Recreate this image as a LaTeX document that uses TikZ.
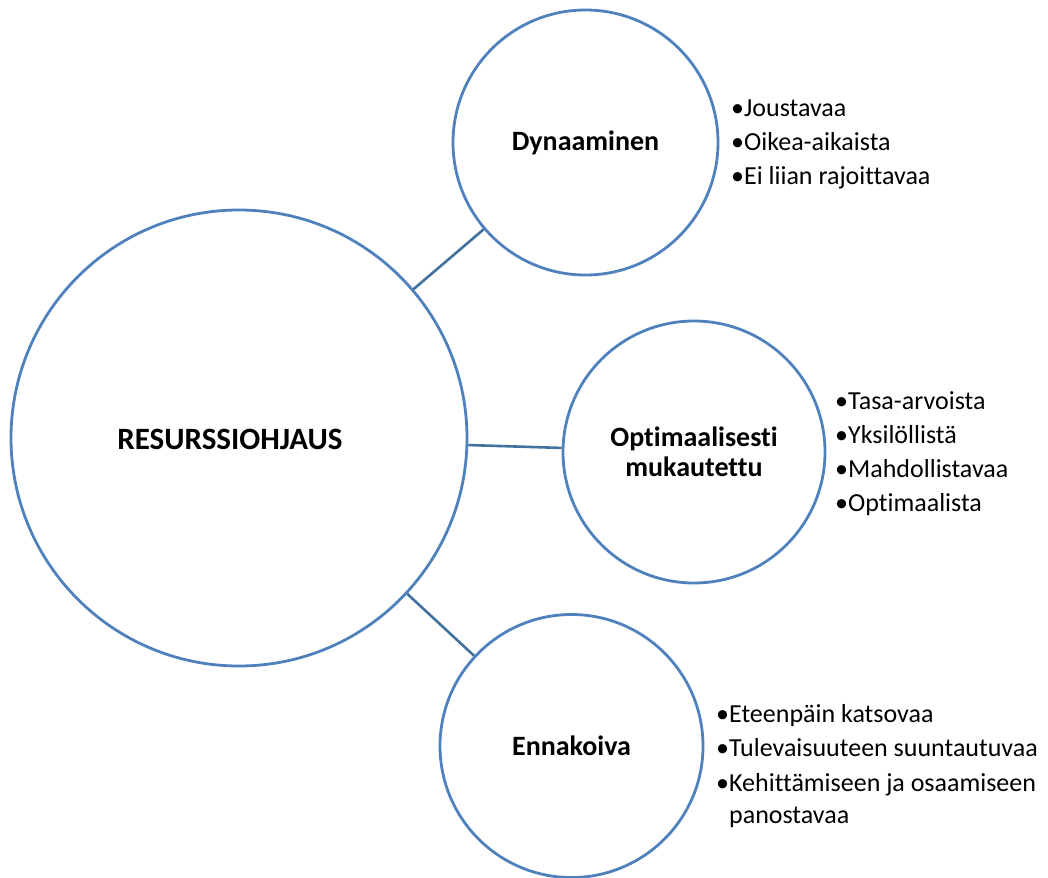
\documentclass[tikz,border=0pt]{standalone}
\usepackage{fontspec}
\setmainfont[RawFeature={-liga;-calt;-dlig}]{Carlito}
\definecolor{circblue}{HTML}{4F81BD}
\definecolor{connblue}{HTML}{41719C}
\begin{document}
\begin{tikzpicture}[x=1pt,y=-1pt,
  circ/.style={circle, draw=circblue, line width=2.8pt, inner sep=0pt, minimum size=#1,
    font=\bfseries\fontsize{28}{30}\selectfont, align=center},
  conn/.style={draw=connblue, line width=2.6pt},
  item/.style={anchor=base west, inner sep=0pt, font=\fontsize{26}{34}\selectfont},
  biglabel/.style={font=\bfseries\fontsize{31}{34}\selectfont, inner sep=0pt}]
\useasboundingbox (0,0) rectangle (1048,877);
\node[circ=456pt] (main) at (239,438) {};
\node[biglabel] (mainlabel) at (230,439) {RESURSSIOHJAUS};
\node[circ=265pt] (dyn) at (585.5,142.5) {Dynaaminen};
\node[circ=262pt] (opt) at (694,452) {Optimaalisesti\\mukautettu};
\node[circ=263pt] (enn) at (571.5,746) {Ennakoiva};
\draw[conn] (main) -- (dyn);
\draw[conn] (main) -- (opt);
\draw[conn] (main) -- (enn);
\node[item] (d1) at (731,117) {•Joustavaa};
\node[item] (d2) at (731,151) {•Oikea-aikaista};
\node[item] (d3) at (731,185) {•Ei liian rajoittavaa};
\node[item] (o1) at (835,409) {•Tasa-arvoista};
\node[item] (o2) at (835,443) {•Yksilöllistä};
\node[item] (o3) at (835,477) {•Mahdollistavaa};
\node[item] (o4) at (835,511) {•Optimaalista};
\node[item] (e1) at (716,722) {•Eteenpäin katsovaa};
\node[item] (e2) at (716,756.5) {•Tulevaisuuteen suuntautuvaa};
\node[item] (e3) at (716,791) {•Kehittämiseen ja osaamiseen};
\node[item] (e4) at (716,823) {\hphantom{•}panostavaa};
\end{tikzpicture}
\end{document}
